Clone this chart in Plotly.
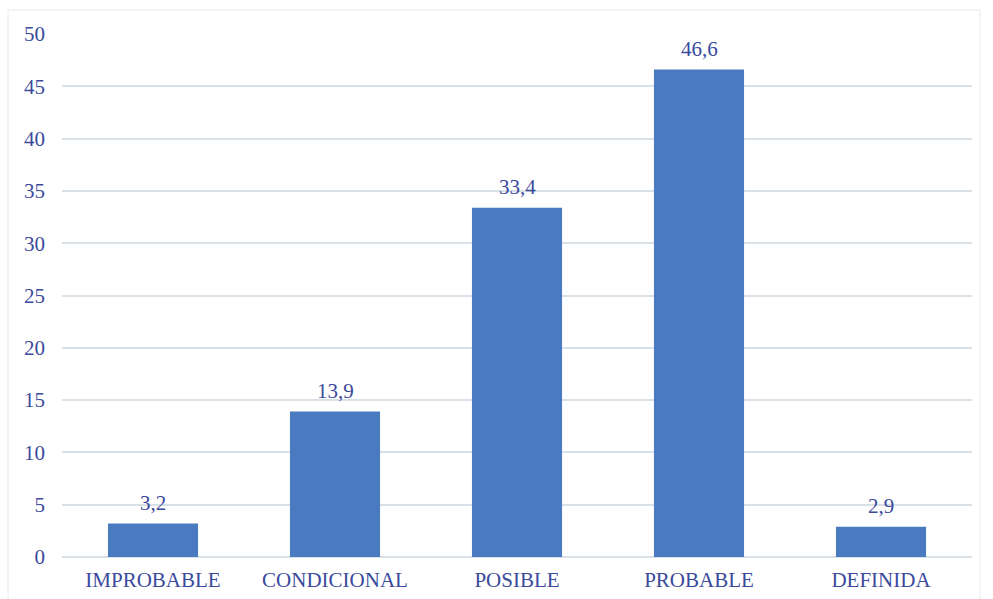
import plotly.graph_objects as go

categories = ["IMPROBABLE", "CONDICIONAL", "POSIBLE", "PROBABLE", "DEFINIDA"]
values = [3.2, 13.9, 33.4, 46.6, 2.9]
tick_vals = [0, 5, 10, 15, 20, 25, 30, 35, 40, 45, 50]

font_color = "#3a4a9c"
font_family = "Liberation Serif, Times New Roman, serif"

fig = go.Figure()
fig.add_trace(go.Bar(
    x=categories,
    y=values,
    marker=dict(color="#4a7bc1", line=dict(width=0)),
    hoverinfo="x+y",
))

for cat, val in zip(categories, values):
    fig.add_annotation(
        x=cat, y=val, xref="x", yref="y",
        text=f"{val:.1f}".replace(".", ","),
        showarrow=False, yanchor="bottom", yshift=7,
        font=dict(size=21, color=font_color, family=font_family),
    )

fig.update_layout(
    width=993,
    height=599,
    margin=dict(l=62, r=21, t=34, b=42, autoexpand=False),
    paper_bgcolor="white",
    plot_bgcolor="white",
    separators=",.",
    bargap=0.505,
    showlegend=False,
    font=dict(family=font_family, size=21, color=font_color),
    shapes=[dict(type="rect", xref="paper", yref="paper",
                 x0=-54/910, x1=918/910, y0=-0.2, y1=1 + 24/523,
                 line=dict(color="#e6eaee", width=1), layer="below")],
)
fig.update_xaxes(
    automargin=False,
    showgrid=False,
    showline=False,
    ticks="",
    ticklabelstandoff=8,
    tickfont=dict(size=21, color=font_color, family=font_family),
)
fig.update_yaxes(
    automargin=False,
    range=[0, 50],
    tickvals=tick_vals,
    showgrid=True,
    gridcolor="#d8e0e8",
    gridwidth=1.5,
    zeroline=True,
    zerolinecolor="#d8e0e8",
    zerolinewidth=1.5,
    showline=False,
    ticks="",
    ticklabelstandoff=16,
    tickfont=dict(size=21, color=font_color, family=font_family),
)

fig.write_html("out.html")
